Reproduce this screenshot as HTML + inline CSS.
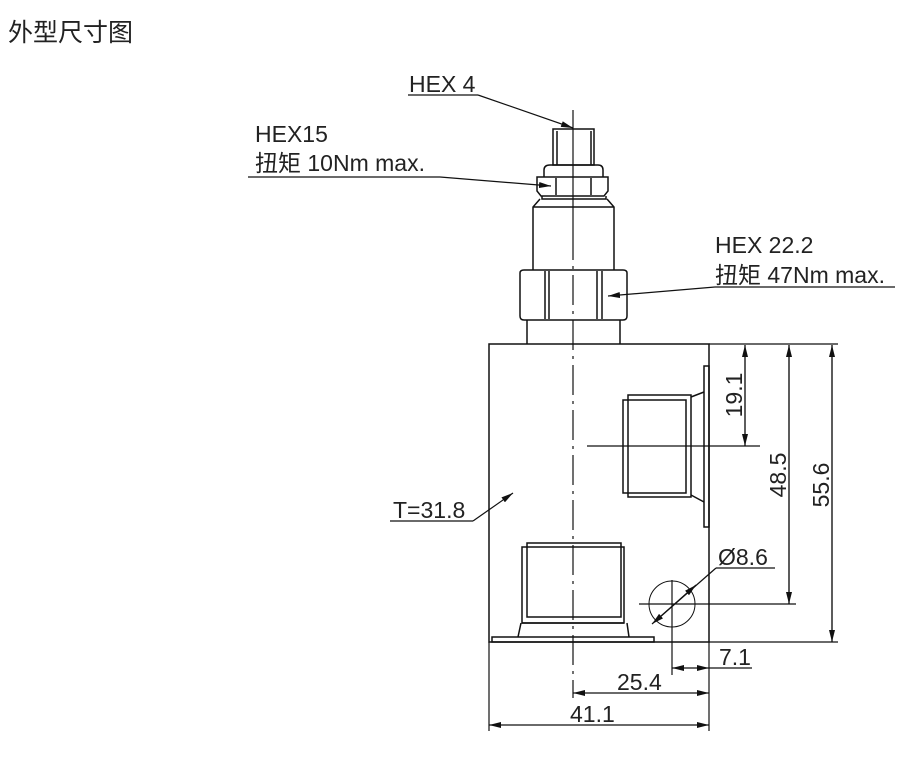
<!DOCTYPE html>
<html><head><meta charset="utf-8"><style>
html,body{margin:0;padding:0;background:#fff;}
svg{display:block;}
text{font-family:"Liberation Sans","Noto Sans CJK SC",sans-serif;fill:#222;}
</style></head><body>
<svg width="921" height="771" viewBox="0 0 921 771" xmlns="http://www.w3.org/2000/svg">
<defs>
<marker id="a" viewBox="0 0 12 6" refX="12" refY="3" markerWidth="12" markerHeight="6" orient="auto" markerUnits="userSpaceOnUse"><path d="M0,0 L12,3 L0,6 Z" fill="#111"/></marker>
</defs>
<text x="8" y="41" font-size="25" style="font-family:'Noto Sans CJK SC',sans-serif;font-size:25px">外型尺寸图</text>
<g fill="none" stroke="#111" stroke-width="1.5">
<rect x="553" y="129" width="41" height="36"/>
<line x1="557" y1="131" x2="557" y2="165"/><line x1="591" y1="131" x2="591" y2="165"/>
<path d="M544,177 L544,170 Q544,165 550,165 L598,165 Q603,165 603,170 L603,177"/>
<path d="M537,177 L608,177 L608,191 L604,196 L541,196 L537,191 Z"/>
<line x1="556" y1="178" x2="556" y2="195"/><line x1="591" y1="178" x2="591" y2="195"/>
<path d="M542,196 L542,199 L606,199 L606,196"/>
<path d="M540,199 L533,207 L533,270 M607,199 L614,207 L614,270 M533,207 L614,207"/>
<path d="M520,273 Q520,270 524,270 L623,270 Q627,270 627,273 L627,316 Q627,320 623,320 L524,320 Q520,320 520,316 Z"/>
<line x1="545" y1="271" x2="545" y2="319"/><line x1="549" y1="271" x2="549" y2="319"/>
<line x1="597" y1="271" x2="597" y2="319"/><line x1="602" y1="271" x2="602" y2="319"/>
<path d="M527,320 L527,344 M620,320 L620,344"/>
<rect x="489" y="344" width="220" height="298"/>
<rect x="704" y="366" width="5" height="161"/>
<rect x="628" y="395" width="63" height="102"/>
<rect x="623" y="400" width="63" height="93"/>
<path d="M691,397 L704,392 M691,495 L704,502"/>
<rect x="527" y="543" width="94" height="74"/>
<rect x="522" y="547" width="102" height="76"/>
<path d="M521,623 L518,637 M627,623 L629,637 M522,623 L624,623"/>
<rect x="492" y="637" width="162" height="5"/>
<circle cx="672" cy="604" r="23" stroke-width="1"/>
</g>
<g stroke="#111" stroke-width="1.2" fill="none">
<line x1="573" y1="110" x2="573" y2="230"/>
<path d="M573,230 L573,698" stroke-dasharray="30,6,3,6"/>
<line x1="587" y1="446" x2="760" y2="446"/>
<line x1="639" y1="604" x2="796" y2="604"/>
<line x1="672" y1="580" x2="672" y2="675"/>
<line x1="709" y1="344" x2="838" y2="344"/>
<line x1="709" y1="642" x2="838" y2="642"/>
<line x1="745" y1="446" x2="745" y2="345" marker-end="url(#a)"/>
<line x1="745" y1="345" x2="745" y2="446" marker-end="url(#a)"/>
<line x1="789" y1="604" x2="789" y2="345" marker-end="url(#a)"/>
<line x1="789" y1="345" x2="789" y2="604" marker-end="url(#a)"/>
<line x1="832" y1="642" x2="832" y2="345" marker-end="url(#a)"/>
<line x1="832" y1="345" x2="832" y2="642" marker-end="url(#a)"/>
<line x1="709" y1="642" x2="709" y2="731"/>
<line x1="489" y1="642" x2="489" y2="731"/>
<line x1="709" y1="668" x2="752" y2="668"/>
<line x1="690" y1="668" x2="672" y2="668" marker-end="url(#a)"/>
<line x1="690" y1="668" x2="709" y2="668" marker-end="url(#a)"/>
<line x1="640" y1="693" x2="573" y2="693" marker-end="url(#a)"/>
<line x1="640" y1="693" x2="709" y2="693" marker-end="url(#a)"/>
<line x1="600" y1="725" x2="489" y2="725" marker-end="url(#a)"/>
<line x1="600" y1="725" x2="709" y2="725" marker-end="url(#a)"/>
<line x1="716" y1="568" x2="652" y2="624" marker-end="url(#a)"/>
<line x1="660" y1="617" x2="696" y2="585" marker-end="url(#a)"/>
<line x1="716" y1="568" x2="775" y2="568"/>
<line x1="408" y1="95" x2="478" y2="95"/>
<line x1="478" y1="95" x2="573" y2="128" marker-end="url(#a)"/>
<line x1="248" y1="177" x2="440" y2="177"/>
<line x1="440" y1="177" x2="551" y2="186" marker-end="url(#a)"/>
<line x1="715" y1="287" x2="895" y2="287"/>
<line x1="715" y1="287" x2="608" y2="296" marker-end="url(#a)"/>
<line x1="390" y1="521" x2="473" y2="521"/>
<line x1="473" y1="521" x2="513" y2="493" marker-end="url(#a)"/>
</g>
<g font-size="23" style="font-size:23px">
<text x="409" y="92">HEX 4</text>
<text x="255" y="142">HEX15</text>
<text x="255" y="171">扭矩 10Nm max.</text>
<text x="715" y="253">HEX 22.2</text>
<text x="715" y="283">扭矩 47Nm max.</text>
<text x="393" y="518">T=31.8</text>
<text x="718" y="565">Ø8.6</text>
<text x="719" y="665">7.1</text>
<text x="617" y="690">25.4</text>
<text x="570" y="722">41.1</text>
<text transform="translate(742,395) rotate(-90)" text-anchor="middle">19.1</text>
<text transform="translate(786,475) rotate(-90)" text-anchor="middle">48.5</text>
<text transform="translate(829,485) rotate(-90)" text-anchor="middle">55.6</text>
</g>
</svg>
</body></html>
